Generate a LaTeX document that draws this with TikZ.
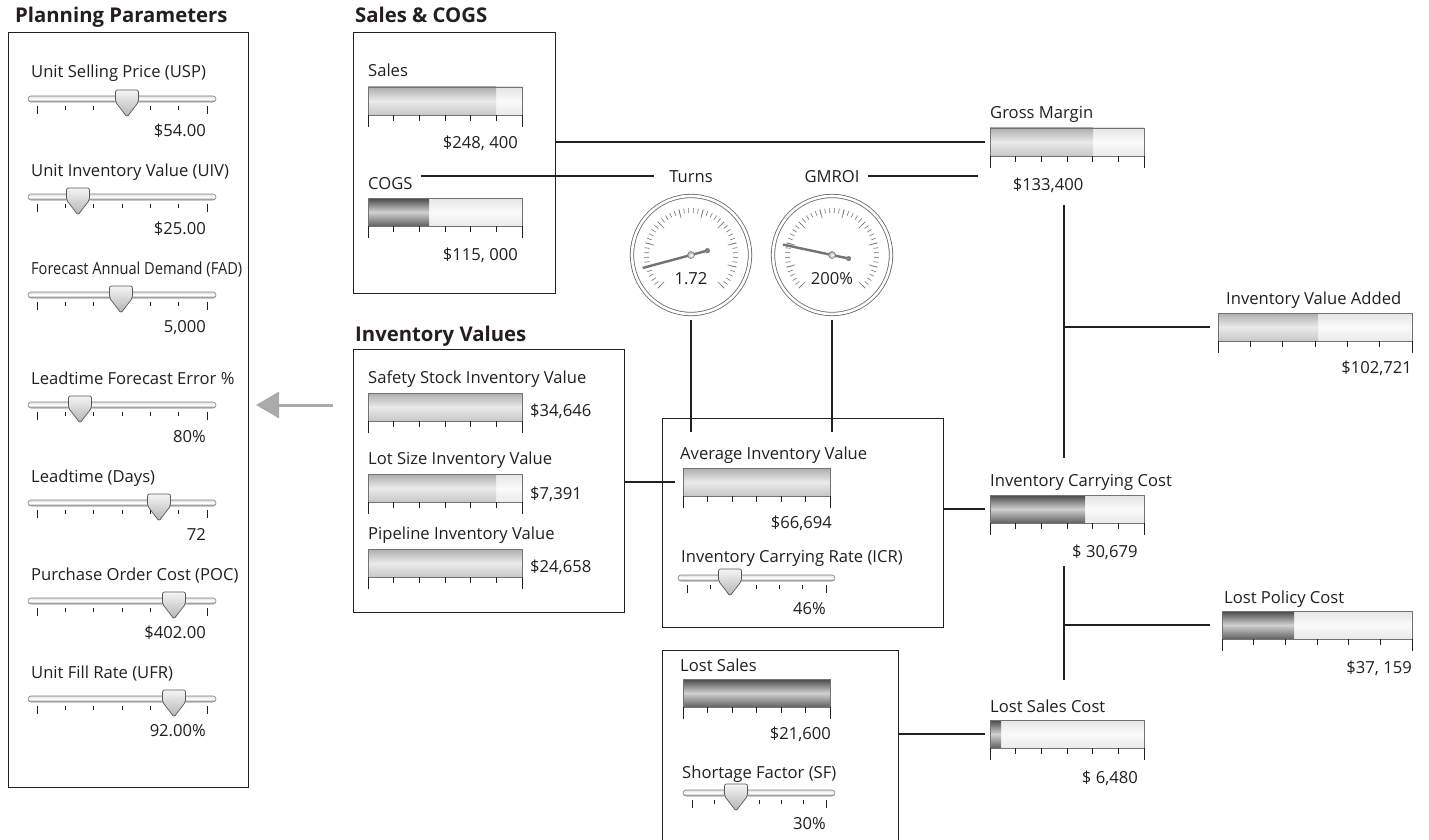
\documentclass[tikz,border=0pt]{standalone}
\usepackage{fontspec}
\setmainfont{Open Sans}
\usetikzlibrary{arrows.meta,positioning,calc}
\definecolor{tinta}{RGB}{35,31,32}
\definecolor{flecha}{RGB}{170,170,170}

% bar meter: name, left x, top y, width, filled width, fill style
\newcommand{\meter}[6]{%
  \shade[barempty] (#2,#3) rectangle ++(#4,28);
  \shade[#6] (#2,#3) rectangle ++(#5,28);
  \node[barframe,minimum width=#4pt,anchor=north west] (#1) at (#2,#3) {};
  \foreach \k in {1,...,5}
    \draw[tick] ($(#1.south west)+(\k*#4/6,0)$) -- ++(0,6);
  \draw[tick] (#1.south west) -- ++(0,12);
  \draw[tick] (#1.south east) -- ++(0,12);
}
% slider: name, left x, track y, width, knob x
\newcommand{\slider}[5]{%
  \node[track,minimum width=#4pt,anchor=west] (#1) at (#2,#3) {};
  \foreach \k in {1,...,5}
    \draw[tick] ($(#1.west)+(9+\k*#4/6-\k*3,7)$) -- ++(0,4);
  \draw[tick] ($(#1.west)+(9,7)$) -- ++(0,8);
  \draw[tick] ($(#1.east)+(-9,7)$) -- ++(0,8);
  \shadedraw[knob] (#5,#3+18) -- (#5-11.5,#3+3) -- (#5-11.5,#3-9) -- (#5+11.5,#3-9) -- (#5+11.5,#3+3) -- cycle;
}
% dial: name, centre x, centre y, needle angle, value
\newcommand{\dial}[5]{%
  \node[dialring] (#1) at (#2,#3) {};
  \foreach \a in {-225,-219,...,45}
    \draw[dialtick] ($(#1.center)+(\a:42)$) -- ($(#1.center)+(\a:47)$);
  \foreach \a in {-225,-195,...,45}
    \draw[dialtick] ($(#1.center)+(\a:38)$) -- ($(#1.center)+(\a:47)$);
  \node[txt,anchor=base] (#1val) at (#2,#3+29) {#5};
  \draw[needle] ($(#1.center)+(#4+180:17)$) -- ($(#1.center)+(#4:50)$);
  \fill[black!50] ($(#1.center)+(#4+180:17)$) circle (2.6);
  \shadedraw[pivot] (#1.center) circle (3.5);
}

\begin{document}
\begin{tikzpicture}[x=1pt,y=-1pt,
txt/.style={font=\fontsize{16.6}{19}\selectfont,inner sep=0pt,text=tinta},
ttl/.style={font=\fontsize{20.3}{24}\selectfont\bfseries,inner sep=0pt,text=tinta,anchor=base west},
frame/.style={draw=tinta,line width=0.9pt,inner sep=0pt,outer sep=0pt,anchor=north west},
barframe/.style={draw=black!55,line width=0.8pt,inner sep=0pt,outer sep=0pt,minimum height=28pt},
barempty/.style={top color=black!10,bottom color=black!8,middle color=black!2},
barlight/.style={top color=black!32,bottom color=black!22,middle color=black!8},
bardark/.style={top color=black!72,bottom color=black!62,middle color=black!18},
tick/.style={draw=tinta,line width=0.9pt},
track/.style={rectangle,rounded corners=3pt,minimum height=6pt,inner sep=0pt,outer sep=0pt,draw=black!50,line width=0.6pt,top color=black!12,bottom color=black!45,middle color=white},
knob/.style={draw=black!65,line width=0.7pt,rounded corners=2pt,top color=black!4,bottom color=black!30},
dialring/.style={circle,draw=black!60,line width=0.8pt,double=white,double distance=2.6pt,minimum size=118pt,inner sep=0pt},
dialtick/.style={draw=black!55,line width=0.6pt},
needle/.style={draw=black!55,line width=2.4pt},
pivot/.style={draw=black!55,line width=0.5pt,inner color=white,outer color=black!35},
link/.style={draw=tinta,line width=1.6pt},
greyarrow/.style={draw=flecha,line width=3pt,-{Triangle[length=23pt,width=26pt]}}
]
\useasboundingbox (0,0) rectangle (1429,840);
\fill[white] (0,0) rectangle (1429,840);

% group frames and titles
\node[ttl] (plantitle) at (15,23) {Planning Parameters};
\node[frame,minimum width=240pt,minimum height=755pt] (planbox) at (8,32) {};
\node[ttl] (salestitle) at (355,23) {Sales \& COGS};
\node[frame,minimum width=202pt,minimum height=261pt] (salesbox) at (353,32) {};
\node[ttl] (invtitle) at (355,341) {Inventory Values};
\node[frame,minimum width=271pt,minimum height=263pt] (invbox) at (353,349) {};
\node[frame,minimum width=281pt,minimum height=209pt] (avgbox) at (662,418) {};
\node[frame,minimum width=236pt,minimum height=200pt] (lsbox) at (662,650) {};

% planning parameters
\node[txt,anchor=base west] (uspl) at (31,78) {Unit Selling Price (USP)};
\slider{usp}{28}{99}{188}{127}
\node[txt,anchor=base east] (uspv) at (206,136) {\$54.00};
\node[txt,anchor=base west] (uivl) at (31,176) {Unit Inventory Value (UIV)};
\slider{uiv}{28}{197}{188}{78}
\node[txt,anchor=base east] (uivv) at (206,234) {\$25.00};
\node[txt,anchor=base west] (fadl) at (31,274) {\scalebox{0.88}[1]{Forecast Annual Demand (FAD)}};
\slider{fad}{28}{295}{188}{121}
\node[txt,anchor=base east] (fadv) at (206,332) {5,000};
\node[txt,anchor=base west] (lfel) at (31,384) {Leadtime Forecast Error \%};
\slider{lfe}{28}{405}{188}{80}
\node[txt,anchor=base east] (lfev) at (206,442) {80\%};
\node[txt,anchor=base west] (ltl) at (31,482) {Leadtime (Days)};
\slider{lt}{28}{503}{188}{159}
\node[txt,anchor=base east] (ltv) at (206,540) {72};
\node[txt,anchor=base west] (pocl) at (31,580) {Purchase Order Cost (POC)};
\slider{poc}{28}{601}{188}{174}
\node[txt,anchor=base east] (pocv) at (206,638) {\$402.00};
\node[txt,anchor=base west] (ufrl) at (31,678) {Unit Fill Rate (UFR)};
\slider{ufr}{28}{699}{188}{174}
\node[txt,anchor=base east] (ufrv) at (206,736) {92.00\%};

% sales and cogs
\node[txt,anchor=base west] (salesl) at (368,77) {Sales};
\meter{salesbar}{368}{87}{154}{128}{barlight}
\node[txt,anchor=base east] (salesv) at (518,149) {\$248, 400};
\node[txt,anchor=base west] (cogsl) at (368,189) {COGS};
\meter{cogsbar}{368}{198}{154}{61}{bardark}
\node[txt,anchor=base east] (cogsv) at (518,260) {\$115, 000};

% dials
\node[txt,anchor=base] (turnsl) at (691,182) {Turns};
\dial{turns}{691}{255}{165}{1.72}
\node[txt,anchor=base] (gmroil) at (832,182) {GMROI};
\dial{gmroi}{832}{255}{192}{200\%}

% inventory values
\node[txt,anchor=base west] (ssl) at (368,383) {Safety Stock Inventory Value};
\meter{ssbar}{368}{393}{154}{154}{barlight}
\node[txt,anchor=base west] (ssv) at (530,416) {\$34,646};
\node[txt,anchor=base west] (lotl) at (368,464) {Lot Size Inventory Value};
\meter{lotbar}{368}{474}{154}{128}{barlight}
\node[txt,anchor=base west] (lotv) at (530,499) {\$7,391};
\node[txt,anchor=base west] (pipl) at (368,539) {Pipeline Inventory Value};
\meter{pipbar}{368}{549}{154}{154}{barlight}
\node[txt,anchor=base west] (pipv) at (530,572) {\$24,658};

% average inventory
\node[txt,anchor=base west] (avgl) at (680,459) {Average Inventory Value};
\meter{avgbar}{683}{468}{147}{147}{barlight}
\node[txt,anchor=base east] (avgv) at (832,528) {\$66,694};
\node[txt,anchor=base west] (icrl) at (681,562) {Inventory Carrying Rate (ICR)};
\slider{icr}{678}{578}{157}{730}
\node[txt,anchor=base east] (icrv) at (826,614) {46\%};

% lost sales
\node[txt,anchor=base west] (lsl) at (680,671) {Lost Sales};
\meter{lsbar}{683}{679}{147}{147}{bardark}
\node[txt,anchor=base east] (lsv) at (831,739) {\$21,600};
\node[txt,anchor=base west] (sfl) at (682,778) {Shortage Factor (SF)};
\slider{sf}{683}{793}{152}{736}
\node[txt,anchor=base east] (sfv) at (826,829) {30\%};

% results
\node[txt,anchor=base west] (gml) at (990,119) {Gross Margin};
\meter{gmbar}{990}{128}{154}{103}{barlight}
\node[txt,anchor=base] (gmv) at (1048,190) {\$133,400};
\node[txt,anchor=base west] (ival) at (1226,304) {Inventory Value Added};
\meter{ivabar}{1218}{313}{194}{100}{barlight}
\node[txt,anchor=base east] (ivav) at (1412,373) {\$102,721};
\node[txt,anchor=base west] (iccl) at (990,486) {Inventory Carrying Cost};
\meter{iccbar}{990}{495}{154}{95}{bardark}
\node[txt,anchor=base west] (iccv) at (1072,557) {\$ 30,679};
\node[txt,anchor=base west] (lpcl) at (1224,603) {Lost Policy Cost};
\meter{lpcbar}{1222}{611}{190}{72}{bardark}
\node[txt,anchor=base east] (lpcv) at (1412,673) {\$37, 159};
\node[txt,anchor=base west] (lscl) at (990,712) {Lost Sales Cost};
\meter{lscbar}{990}{720}{154}{11}{bardark}
\node[txt,anchor=base east] (lscv) at (1138,783) {\$ 6,480};

% connectors
\coordinate (turnsfoot) at (691,432);
\coordinate (gmroifoot) at (832,432);
\coordinate (gmfoot) at (1064,205);
\coordinate (iccfoot) at (1064,458);
\coordinate (icctail) at (1064,566);
\coordinate (lsctop) at (1064,680);
\draw[link,shorten >=5pt] (salesbox.east |- gmbar.west) -- (gmbar.west);
\draw[link,shorten <=8pt,shorten >=15pt] (cogsl.east |- turnsl.west) -- (turnsl.west);
\draw[link,shorten <=8pt,shorten >=12pt] (gmroil.east) -- (gmroil.east -| gmbar.west);
\draw[link,shorten <=6pt] (turns) -- (turnsfoot);
\draw[link,shorten <=6pt] (gmroi) -- (gmroifoot);
\draw[link,shorten >=8pt] (invbox.east |- avgbar.west) -- (avgbar.west);
\draw[link,shorten >=5pt] (avgbox.east |- iccbar.west) -- (iccbar.west);
\draw[link,shorten >=5pt] (lsbox.east |- lscbar.west) -- (lscbar.west);
\draw[link] (gmfoot) -- (iccfoot);
\draw[link,shorten >=8pt] (gmfoot |- ivabar.west) -- (ivabar.west);
\draw[link] (icctail) -- (lsctop);
\draw[link,shorten >=12pt] (icctail |- lpcbar.west) -- (lpcbar.west);
\draw[greyarrow,shorten <=20pt,shorten >=8pt] (invbox.west |- lfe.west) -- (planbox.east |- lfe.west);
\end{tikzpicture}
\end{document}
